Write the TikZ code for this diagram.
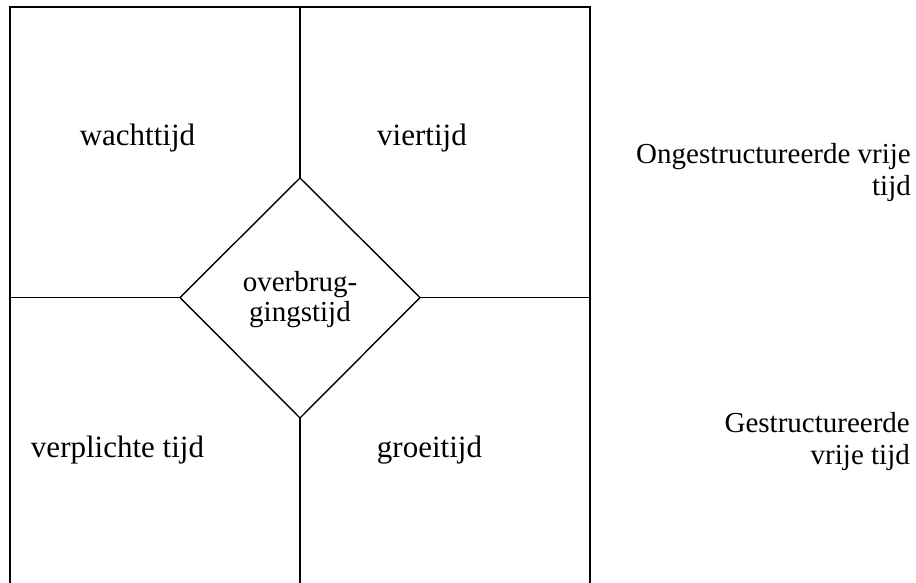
\documentclass[tikz,border=0pt]{standalone}
\usepackage{fontspec}
\setmainfont{Liberation Serif}
\begin{document}
\begin{tikzpicture}[x=1pt,y=-1pt,
  frame/.style={line width=1.8pt,black},
  divider/.style={line width=1.4pt,black},
  biglabel/.style={inner sep=0pt,anchor=base,font=\fontsize{31}{36}\selectfont},
  midlabel/.style={inner sep=0pt,align=center,font=\fontsize{29}{30}\selectfont},
  sidelabel/.style={inner sep=0pt,align=right,anchor=base east,font=\fontsize{29}{32}\selectfont}]
\useasboundingbox (0,0) rectangle (916,582);
\clip (0,0) rectangle (916,582);
% frame corners
\coordinate (bl) at (10,600);
\coordinate (tl) at (10,7);
\coordinate (tr) at (590,7);
\coordinate (br) at (590,600);
\coordinate (topmid) at (300,7);
\coordinate (botmid) at (300,600);
\coordinate (leftmid) at (10,297.5);
\coordinate (rightmid) at (590,297.5);
% diamond corners
\coordinate (dT) at (300,178);
\coordinate (dB) at (300,418);
\coordinate (dL) at (180,297.5);
\coordinate (dR) at (420,297.5);
\draw[frame] (bl) -- (tl) -- (tr) -- (br);
\draw[divider] (topmid) -- (dT);
\draw[divider] (dB) -- (botmid);
\draw[divider] (leftmid) -- (dL);
\draw[divider] (dR) -- (rightmid);
\draw[divider,line join=miter] (dT) -- (dR) -- (dB) -- (dL) -- cycle;
\node[midlabel] (center) at (300,300) {overbrug-\\gingstijd};
\node[biglabel] (wacht) at (137.5,145) {wachttijd};
\node[biglabel] (vier) at (422,145) {viertijd};
\node[biglabel] (verpl) at (117.5,457) {verplichte tijd};
\node[biglabel] (groei) at (429.5,457) {groeitijd};
\node[sidelabel] (onge) at (911,195) {Ongestructureerde vrije\\tijd};
\node[sidelabel] (gestr) at (910,464) {Gestructureerde\\vrije tijd};
\end{tikzpicture}
\end{document}
